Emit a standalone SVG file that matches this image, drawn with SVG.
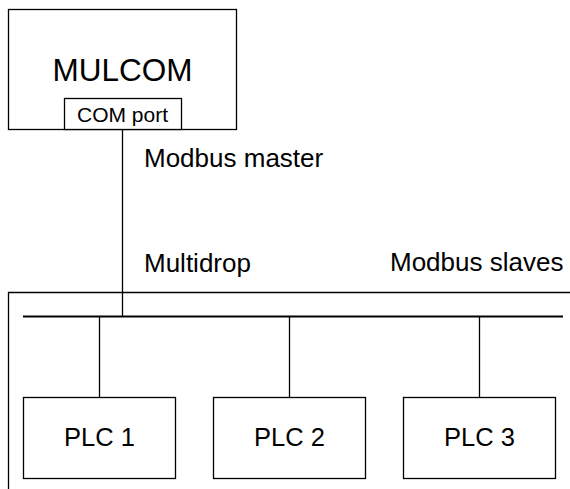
<svg xmlns="http://www.w3.org/2000/svg" width="570" height="489" viewBox="0 0 570 489">
<style>
.box{fill:#fff;stroke:#000;stroke-width:1.3}
.ln{fill:none;stroke:#000;stroke-width:1.3}
.bus{fill:none;stroke:#000;stroke-width:2}
text{font-family:"Liberation Sans",Arial,sans-serif;fill:#000}
.c{text-anchor:middle}
</style>
<rect width="570" height="489" fill="#fff"/>
<g id="network">
<path class="ln" d="M8.5,500 V292.5 H580"/>
</g>
<g id="mulcom">
<rect class="box" x="8.5" y="9.5" width="228" height="120"/>
<text class="c" x="122.5" y="81" font-size="31.5">MULCOM</text>
</g>
<g id="comport">
<rect class="box" x="64.5" y="98.5" width="117" height="31"/>
<text class="c" x="122.5" y="122" font-size="21">COM port</text>
</g>
<g id="labels">
<text x="144" y="167" font-size="26">Modbus master</text>
<text x="144" y="272" font-size="26">Multidrop</text>
<text x="390" y="271" font-size="26">Modbus slaves</text>
</g>
<g id="connectors">
<path class="ln" d="M122.5,130 V316"/>
<path class="bus" d="M23,316.5 H563"/>
<path class="ln" d="M99.5,316 V397"/>
<path class="ln" d="M289.5,316 V397"/>
<path class="ln" d="M479.5,316 V397"/>
</g>
<g id="plc1">
<rect class="box" x="23.5" y="397.5" width="152" height="81"/>
<text class="c" x="99.5" y="446" font-size="25.5">PLC 1</text>
</g>
<g id="plc2">
<rect class="box" x="213.5" y="397.5" width="152" height="81"/>
<text class="c" x="289.5" y="446" font-size="25.5">PLC 2</text>
</g>
<g id="plc3">
<rect class="box" x="403.5" y="397.5" width="152" height="81"/>
<text class="c" x="479.5" y="446" font-size="25.5">PLC 3</text>
</g>
</svg>
